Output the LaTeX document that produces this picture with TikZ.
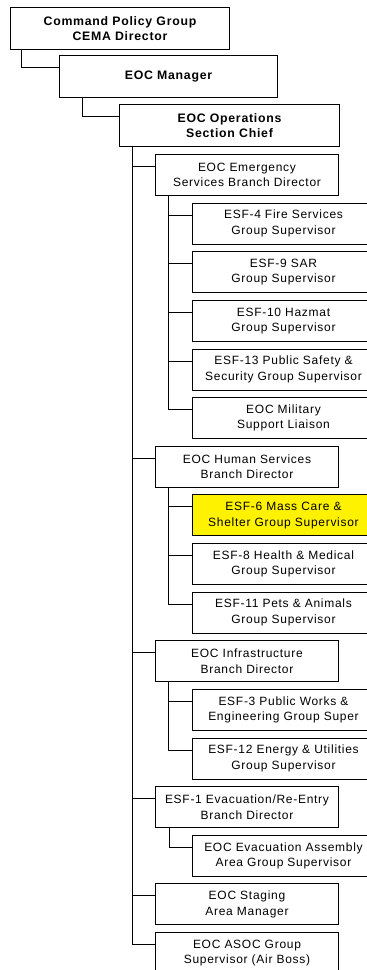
\documentclass[tikz,border=0pt]{standalone}
\usepackage{fontspec}
\setmainfont{Liberation Sans}[LetterSpace=6]
\usetikzlibrary{positioning}

\tikzset{
    box/.style={draw, line width=1pt, anchor=north west, align=center, inner sep=0pt,
        font=\fontsize{12}{15.5}\selectfont},
    topbox/.style={box, minimum height=42pt, font=\fontsize{12.3}{15.5}\selectfont\bfseries},
    brbox/.style={box, minimum width=183pt, minimum height=41pt},
    grpbox/.style={box, minimum width=182pt, minimum height=41pt},
    link/.style={line width=1pt}
}

\begin{document}
\begin{tikzpicture}[x=1pt,y=-1pt]
    \useasboundingbox (0,0) rectangle (367,970);
    \clip (0,0) rectangle (367,970);

    % top of the chain
    \node[topbox, minimum width=219pt] (cpg) at (10,7) {Command Policy Group\\CEMA Director};
    \node[topbox, minimum width=218pt] (mgr) at (59,55) {EOC Manager};
    \node[topbox, minimum width=220pt] (ops) at (119,104) {EOC Operations\\Section Chief};

    % branches
    \node[brbox] (esb) at (155,154) {EOC Emergency\\Services Branch Director};
    \node[grpbox] (esf4) at (192,202.6) {ESF-4 Fire Services\\Group Supervisor};
    \node[grpbox] (esf9) at (192,251.2) {ESF-9 SAR\\Group Supervisor};
    \node[grpbox] (esf10) at (192,299.9) {ESF-10 Hazmat\\Group Supervisor};
    \node[grpbox] (esf13) at (192,348.5) {ESF-13 Public Safety \&\\Security Group Supervisor};
    \node[grpbox] (mil) at (192,397.1) {EOC Military\\Support Liaison};

    \node[brbox] (hsb) at (155,445.7) {EOC Human Services\\Branch Director};
    \node[grpbox, fill=yellow] (esf6) at (192,494.4) {ESF-6 Mass Care \&\\Shelter Group Supervisor};
    \node[grpbox] (esf8) at (192,543) {ESF-8 Health \& Medical\\Group Supervisor};
    \node[grpbox] (esf11) at (192,591.6) {ESF-11 Pets \& Animals\\Group Supervisor};

    \node[brbox] (inf) at (155,640.2) {EOC Infrastructure\\Branch Director};
    \node[grpbox] (esf3) at (192,688.9) {ESF-3 Public Works \&\\Engineering Group Super};
    \node[grpbox] (esf12) at (192,737.5) {ESF-12 Energy \& Utilities\\Group Supervisor};

    \node[brbox] (esf1) at (155,786.1) {ESF-1 Evacuation/Re-Entry\\Branch Director};
    \node[grpbox] (evac) at (192,834.7) {EOC Evacuation Assembly\\Area Group Supervisor};

    \node[brbox] (stag) at (155,883.4) {EOC Staging\\Area Manager};
    \node[brbox] (asoc) at (155,932) {EOC ASOC Group\\Supervisor (Air Boss)};

    % connectors
    \draw[link] ([xshift=11pt]cpg.south west) |- ([yshift=-12.5pt]mgr.north west);
    \draw[link] ([xshift=23pt]mgr.south west) |- ([yshift=-12.5pt]ops.north west);
    \foreach \c in {esb,hsb,inf,esf1,stag,asoc}{
        \draw[link] ([xshift=13pt]ops.south west) |- ([yshift=-12.5pt]\c.north west);
    }
    \foreach \c in {esf4,esf9,esf10,esf13,mil}{
        \draw[link] ([xshift=13pt]esb.south west) |- ([yshift=-12.5pt]\c.north west);
    }
    \foreach \c in {esf6,esf8,esf11}{
        \draw[link] ([xshift=13pt]hsb.south west) |- ([yshift=-12.5pt]\c.north west);
    }
    \foreach \c in {esf3,esf12}{
        \draw[link] ([xshift=13pt]inf.south west) |- ([yshift=-12.5pt]\c.north west);
    }
    \draw[link] ([xshift=14pt]esf1.south west) |- ([yshift=-12.5pt]evac.north west);

\end{tikzpicture}
\end{document}
